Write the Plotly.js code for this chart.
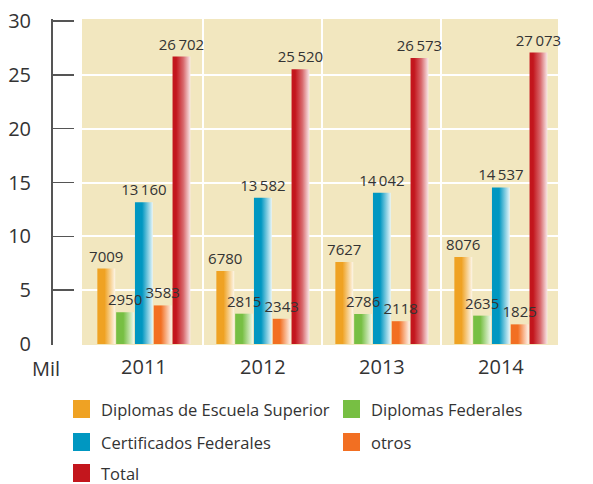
<!DOCTYPE html>
<html>
<head>
<meta charset="utf-8">
<script src="https://cdn.plot.ly/plotly-3.0.1.min.js"></script>
<style>html,body{margin:0;padding:0;background:#fff;}#chart{width:593px;height:484px;}</style>
</head>
<body>
<div id="chart"></div>
<script>
const years = ['2011', '2012', '2013', '2014'];
const seriesNames = ['Diplomas de Escuela Superior', 'Diplomas Federales', 'Certificados Federales', 'otros', 'Total'];
const diplomasEscuela = [7009, 6780, 7627, 8076];
const diplomasFederales = [2950, 2815, 2786, 2635];
const certificadosFederales = [13160, 13582, 14042, 14537];
const otros = [3583, 2343, 2118, 1825];
const total = [26702, 25520, 26573, 27073];
const yTicks = [0, 5, 10, 15, 20, 25, 30];
const unitLabel = 'Mil';

const seriesValues = [diplomasEscuela, diplomasFederales, certificadosFederales, otros, total];
const colors = ['#EFA223', '#77BF43', '#0097C1', '#F26F22', '#C3161D'];

const W = 593, H = 484;
const FONT = '"Open Sans", "Noto Sans", sans-serif';
const TXT = '#333333';

function fmt(v) {
  const s = String(v);
  return v >= 10000 ? s.slice(0, s.length - 3) + '\u2009' + s.slice(s.length - 3) : s;
}

const xPos = years.map((_, i) => i);
const traces = seriesValues.map((vals, i) => ({
  type: 'bar',
  name: seriesNames[i],
  x: xPos,
  y: vals.map(v => v / 1000),
  text: vals.map(fmt),
  textposition: 'outside',
  constraintext: 'none',
  cliponaxis: false,
  textfont: {family: FONT, size: 15, color: TXT},
  marker: {color: colors[i], line: {width: 0}},
  hoverinfo: 'skip',
  showlegend: false
}));

// custom legend
const legendRows = [[0, 1], [2, 3], [4]];
const colX = [73, 343];
const rowY = [409, 442, 473];
const shapes = [];
const annotations = [];
legendRows.forEach((row, r) => {
  row.forEach((si, c) => {
    shapes.push({
      type: 'rect', xref: 'paper', yref: 'paper',
      x0: colX[c] / W, x1: (colX[c] + 17) / W,
      y0: 1 - (rowY[r] + 9) / H, y1: 1 - (rowY[r] - 9) / H,
      fillcolor: colors[si], line: {width: 0}
    });
    annotations.push({
      xref: 'paper', yref: 'paper', x: (colX[c] + 26) / W, y: 1 - rowY[r] / H,
      xanchor: 'left', yanchor: 'middle', showarrow: false,
      text: seriesNames[si], font: {family: FONT, size: 16.5, color: TXT}
    });
  });
});
annotations.push({
  xref: 'paper', yref: 'paper', x: 46 / W, y: 1 - 368 / H,
  xanchor: 'center', yanchor: 'middle', showarrow: false,
  text: unitLabel, font: {family: FONT, size: 20, color: TXT}
});

const pxPerUnit = (344 - 21) / 30;
const layout = {
  width: W, height: H,
  margin: {l: 0, r: 0, t: 0, b: 0, pad: 0},
  paper_bgcolor: '#ffffff',
  plot_bgcolor: '#F2E7BF',
  barmode: 'group',
  bargap: 0.21,
  bargroupgap: 0.05,
  font: {family: FONT, color: TXT},
  xaxis: {
    domain: [82 / W, 558 / W],
    range: [-0.52, 3.48],
    tickmode: 'array', tickvals: xPos, ticktext: years,
    ticks: '', showgrid: false, zeroline: false, showline: false,
    ticklabelstandoff: 8,
    tickfont: {family: FONT, size: 20, color: TXT},
    minor: {tickmode: 'array', tickvals: [0.5, 1.5, 2.5], showgrid: true, gridcolor: '#ffffff', gridwidth: 2, ticks: ''},
    fixedrange: true
  },
  yaxis: {
    domain: [1 - 345 / H, 1 - 19 / H],
    range: [-1 / pxPerUnit, 30 + 2 / pxPerUnit],
    anchor: 'free', position: 51 / W,
    tickmode: 'array', tickvals: yTicks,
    ticks: 'inside', ticklen: 21, tickwidth: 1.5, tickcolor: '#555555',
    showline: true, linecolor: '#555555', linewidth: 1.5,
    showgrid: false, zeroline: false,
    ticklabelstandoff: 16,
    tickfont: {family: FONT, size: 20, color: TXT},
    minor: {tickmode: 'array', tickvals: [5, 10, 15, 20, 25], showgrid: true, gridcolor: '#ffffff', gridwidth: 2, ticks: ''},
    fixedrange: true
  },
  shapes: shapes,
  annotations: annotations
};

function lighten(hex, f) {
  const n = parseInt(hex.slice(1), 16);
  const r = (n >> 16) & 255, g = (n >> 8) & 255, b = n & 255;
  const m = c => Math.round(c + (255 - c) * f);
  return 'rgb(' + m(r) + ',' + m(g) + ',' + m(b) + ')';
}

const gd = document.getElementById('chart');
Plotly.newPlot(gd, traces, layout, {staticPlot: true, displayModeBar: false}).then(() => {
  const svg = gd.querySelector('svg.main-svg');
  const NS = 'http://www.w3.org/2000/svg';
  let defs = svg.querySelector('defs');
  if (!defs) { defs = document.createElementNS(NS, 'defs'); svg.insertBefore(defs, svg.firstChild); }
  colors.forEach((c, i) => {
    const lg = document.createElementNS(NS, 'linearGradient');
    lg.setAttribute('id', 'bargrad' + i);
    lg.setAttribute('x1', '0'); lg.setAttribute('x2', '1');
    lg.setAttribute('y1', '0'); lg.setAttribute('y2', '0');
    const stops = i === 4 ? [[0, c], [0.2, c], [0.6, lighten(c, 0.35)], [1, lighten(c, 0.9)]]
                          : [[0, c], [0.4, c], [1, lighten(c, 0.9)]];
    stops.forEach(([o, col]) => {
      const s = document.createElementNS(NS, 'stop');
      s.setAttribute('offset', o);
      s.setAttribute('stop-color', col);
      lg.appendChild(s);
    });
    defs.appendChild(lg);
  });
  const barTraces = gd.querySelectorAll('g.trace.bars');
  barTraces.forEach((t, i) => {
    t.querySelectorAll('g.point path').forEach(p => { p.style.fill = 'url(#bargrad' + i + ')'; });
  });
  // bring value labels above all bars
  if (barTraces.length) {
    const parent = barTraces[0].parentNode;
    const overlay = document.createElementNS(NS, 'g');
    overlay.setAttribute('class', 'label-overlay');
    parent.appendChild(overlay);
    barTraces.forEach(t => {
      t.querySelectorAll('text').forEach(tx => overlay.appendChild(tx));
    });
  }
});
</script>
</body>
</html>
